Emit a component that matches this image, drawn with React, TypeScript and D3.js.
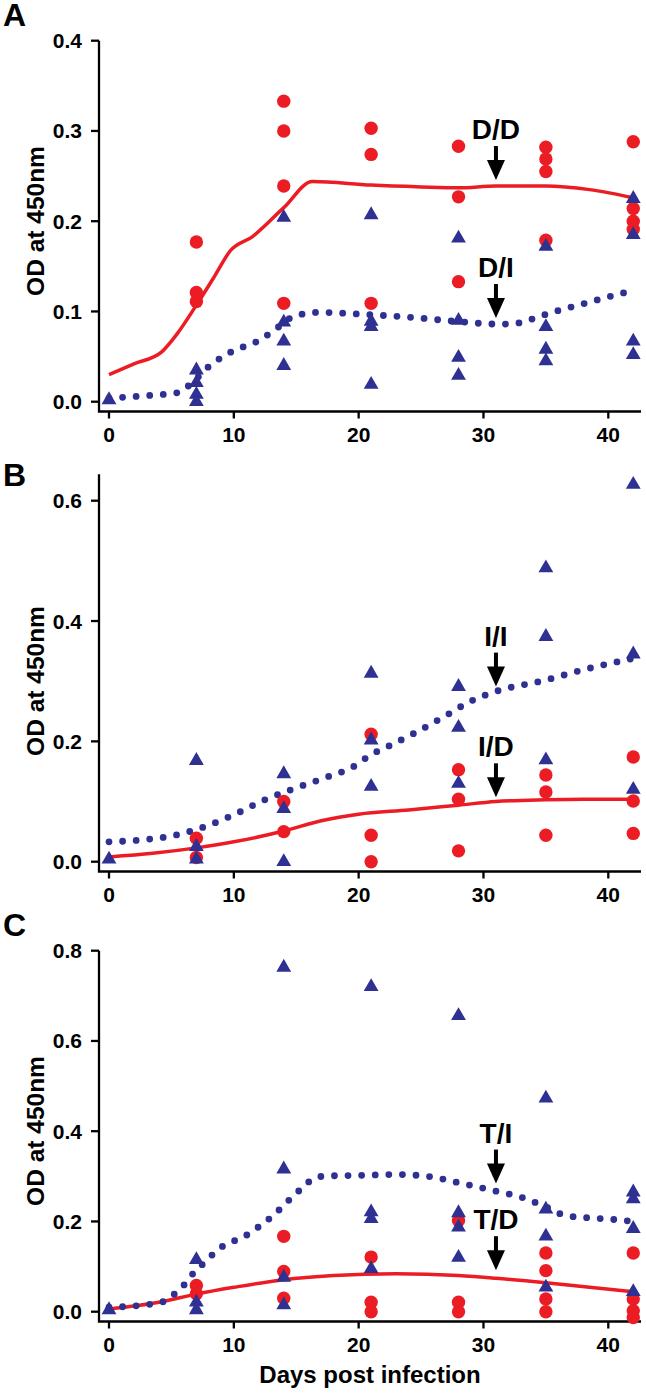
import React from "react";
import * as d3 from "d3";

type P = [number, number];

const xTicks = [0, 10, 20, 30, 40];

// Panel A
const aYTicks = [0, 0.1, 0.2, 0.3, 0.4];
const aCircles: P[] = [[7,0.177],[7,0.121],[7,0.111],[14,0.333],[14,0.300],[14,0.239],[14,0.109],[21,0.303],[21,0.274],[21,0.109],[28,0.283],[28,0.227],[28,0.133],[35,0.282],[35,0.269],[35,0.255],[35,0.179],[42,0.288],[42,0.214],[42,0.200],[42,0.191]];
const aTriangles: P[] = [[0,0.002],[7,0.035],[7,0.021],[7,0.008],[7,0.0],[14,0.204],[14,0.088],[14,0.067],[14,0.040],[21,0.207],[21,0.089],[21,0.083],[21,0.019],[28,0.181],[28,0.090],[28,0.049],[28,0.029],[35,0.172],[35,0.083],[35,0.058],[35,0.045],[42,0.225],[42,0.185],[42,0.067],[42,0.052]];
const aRedCurve: P[] = [[0,0.030],[2,0.042],[4.2,0.055],[5.5,0.076],[7,0.107],[8.5,0.140],[9.7,0.167],[11.5,0.183],[14,0.215],[16.3,0.244],[21,0.240],[25,0.238],[28,0.237],[31,0.239],[35,0.239],[38.5,0.235],[42,0.226]];
const aBlueCurve: P[] = [[0,0.004],[3.3,0.007],[5.5,0.010],[6.5,0.019],[8,0.039],[9.9,0.056],[11.9,0.067],[13.9,0.086],[14.7,0.094],[16.8,0.099],[20.1,0.097],[24.6,0.093],[27.8,0.089],[31.1,0.086],[32.2,0.086],[33.3,0.089],[34.4,0.094],[35.5,0.099],[37.6,0.107],[39.7,0.115],[41.9,0.123]];
const aNotes = [{ label: "D/D", x: 31, tip: 0.2456 }, { label: "D/I", x: 31, tip: 0.0927 }];

// Panel B
const bYTicks = [0, 0.2, 0.4, 0.6];
const bCircles: P[] = [[7,0.039],[7,0.007],[14,0.100],[14,0.050],[21,0.212],[21,0.044],[21,0.0],[28,0.153],[28,0.104],[28,0.018],[35,0.144],[35,0.116],[35,0.044],[42,0.174],[42,0.101],[42,0.047]];
const bTriangles: P[] = [[0,0.004],[7,0.168],[7,0.025],[7,0.004],[14,0.146],[14,0.088],[14,0.0],[21,0.313],[21,0.202],[21,0.125],[28,0.291],[28,0.223],[28,0.130],[35,0.488],[35,0.374],[35,0.169],[42,0.627],[42,0.345],[42,0.120]];
const bRedCurve: P[] = [[0,0.008],[3.5,0.014],[7,0.023],[10,0.033],[14,0.051],[17,0.068],[20,0.079],[24,0.086],[28,0.094],[31,0.100],[35,0.103],[38,0.104],[42,0.104]];
const bBlueCurve: P[] = [[0,0.033],[2.5,0.036],[5.3,0.044],[7.5,0.057],[10,0.078],[12.5,0.103],[14.5,0.119],[17.5,0.141],[19.5,0.157],[21,0.178],[22.5,0.193],[24.5,0.214],[27,0.243],[29,0.267],[31,0.283],[35,0.302],[38,0.319],[42,0.338]];
const bNotes = [{ label: "I/I", x: 31, tip: 0.291 }, { label: "I/D", x: 31, tip: 0.107 }];

// Panel C
const cYTicks = [0, 0.2, 0.4, 0.6, 0.8];
const cTriangles: P[] = [[0,0.004],[7,0.115],[7,0.021],[7,0.004],[14,0.763],[14,0.316],[14,0.076],[14,0.015],[21,0.720],[21,0.221],[21,0.206],[21,0.095],[28,0.656],[28,0.219],[28,0.187],[28,0.120],[35,0.473],[35,0.227],[35,0.167],[35,0.054],[42,0.265],[42,0.250],[42,0.184],[42,0.044]];
const cCircles: P[] = [[7,0.058],[7,0.040],[14,0.167],[14,0.089],[14,0.030],[21,0.121],[21,0.021],[21,0.0],[28,0.202],[28,0.021],[28,0.0],[35,0.130],[35,0.091],[35,0.028],[35,0.0],[42,0.130],[42,0.028],[42,0.002],[42,-0.013]];
const cRedCurve: P[] = [[0,0.006],[4,0.021],[7,0.039],[10,0.054],[14,0.071],[18,0.080],[23,0.084],[28,0.080],[31,0.074],[35,0.064],[38.5,0.054],[42,0.044]];
const cBlueCurve: P[] = [[0,0.010],[2.2,0.013],[3.4,0.017],[4.5,0.024],[5.4,0.043],[6.2,0.065],[6.8,0.087],[7.7,0.110],[8.5,0.132],[9.4,0.150],[10.4,0.161],[11.4,0.176],[12.3,0.195],[13.2,0.214],[14,0.236],[14.8,0.257],[15.7,0.280],[16.5,0.297],[17.6,0.301],[20,0.302],[23,0.304],[25.5,0.300],[28,0.286],[31,0.267],[33,0.254],[35,0.232],[36.6,0.213],[39,0.207],[41,0.203],[42,0.200]];
const cNotes = [{ label: "T/I", x: 31, tip: 0.284 }, { label: "T/D", x: 31, tip: 0.092 }];

const RED = "#ec1c24";
const BLUE = "#2e3192";
const FONT = "'Liberation Sans', Arial, Helvetica, sans-serif";

const X_LEFT = 99;
const X_RIGHT = 641;
const Y_ZERO = 401.7;
const Y_TOP = 40.7;
const X_AXIS_Y = 411.5;

const xScale = d3.scaleLinear().domain([0, 40]).range([109, 608.3]);

interface PanelProps {
  offset: number;
  letter: string;
  yTicks: number[];
  axisTop: number;
  circles: P[];
  triangles: P[];
  redCurve: P[];
  blueCurve: P[];
  notes: { label: string; x: number; tip: number }[];
  tickFmt: (v: number) => string;
}

function Panel(p: PanelProps) {
  const yMax = p.yTicks[p.yTicks.length - 1];
  const y = d3.scaleLinear().domain([0, yMax]).range([Y_ZERO, Y_TOP]);
  const line = d3
    .line<P>()
    .x((d) => xScale(d[0]))
    .y((d) => y(d[1]))
    .curve(d3.curveMonotoneX);
  const tri = d3.symbol().type(d3.symbolTriangle).size(95)();
  return (
    <g transform={`translate(0,${p.offset})`}>
      <text x={3} y={26} fontFamily={FONT} fontWeight="bold" fontSize={32} fill="#000">
        {p.letter}
      </text>
      <path
        d={`M${X_LEFT},${y(p.axisTop)} V${X_AXIS_Y} H${X_RIGHT}`}
        fill="none"
        stroke="#000"
        strokeWidth={2.3}
      />
      {p.yTicks.map((t) => (
        <g key={"y" + t}>
          <line x1={X_LEFT - 8} x2={X_LEFT} y1={y(t)} y2={y(t)} stroke="#000" strokeWidth={2.3} />
          <text
            x={82}
            y={y(t) + 7.5}
            textAnchor="end"
            fontFamily={FONT}
            fontWeight="bold"
            fontSize={21}
            fill="#000"
          >
            {p.tickFmt(t)}
          </text>
        </g>
      ))}
      {xTicks.map((t) => (
        <g key={"x" + t}>
          <line x1={xScale(t)} x2={xScale(t)} y1={X_AXIS_Y} y2={X_AXIS_Y + 7} stroke="#000" strokeWidth={2.3} />
          <text
            x={xScale(t)}
            y={441.5}
            textAnchor="middle"
            fontFamily={FONT}
            fontWeight="bold"
            fontSize={21}
            fill="#000"
          >
            {t}
          </text>
        </g>
      ))}
      <text
        transform={`translate(44,221) rotate(-90)`}
        textAnchor="middle"
        fontFamily={FONT}
        fontWeight="bold"
        fontSize={24.5}
        fill="#000"
      >
        OD at 450nm
      </text>
      <path d={line(p.redCurve) || ""} fill="none" stroke={RED} strokeWidth={3.5} strokeLinejoin="round" />
      <path
        d={line(p.blueCurve) || ""}
        fill="none"
        stroke={BLUE}
        strokeWidth={6.8}
        strokeLinecap="round"
        strokeDasharray="0 13.6"
      />
      {p.circles.map((d, i) => (
        <circle key={"c" + i} cx={xScale(d[0])} cy={y(d[1])} r={6.7} fill={RED} />
      ))}
      {p.triangles.map((d, i) => (
        <path key={"t" + i} d={tri || ""} transform={`translate(${xScale(d[0])},${y(d[1])})`} fill={BLUE} />
      ))}
      {p.notes.map((n) => {
        const cx = xScale(n.x);
        const ty = y(n.tip);
        return (
          <g key={n.label}>
            <line x1={cx} x2={cx} y1={ty - 34} y2={ty - 16} stroke="#000" strokeWidth={4} />
            <path d={`M${cx - 9},${ty - 20} L${cx + 9},${ty - 20} L${cx},${ty} Z`} fill="#000" />
            <text
              x={cx}
              y={ty - 41}
              textAnchor="middle"
              fontFamily={FONT}
              fontWeight="bold"
              fontSize={28}
              fill="#000"
            >
              {n.label}
            </text>
          </g>
        );
      })}
    </g>
  );
}

export default function App() {
  const f1 = d3.format(".1f");
  return (
    <svg
      width={646}
      height={1393}
      viewBox="0 0 646 1393"
      style={{ position: "absolute", left: 0, top: 0, background: "#fff" }}
    >
      <rect width={646} height={1393} fill="#fff" />
      <Panel
        offset={0}
        letter="A"
        yTicks={aYTicks}
        axisTop={0.4}
        circles={aCircles}
        triangles={aTriangles}
        redCurve={aRedCurve}
        blueCurve={aBlueCurve}
        notes={aNotes}
        tickFmt={f1}
      />
      <Panel
        offset={460}
        letter="B"
        yTicks={bYTicks}
        axisTop={0.644}
        circles={bCircles}
        triangles={bTriangles}
        redCurve={bRedCurve}
        blueCurve={bBlueCurve}
        notes={bNotes}
        tickFmt={f1}
      />
      <Panel
        offset={910}
        letter="C"
        yTicks={cYTicks}
        axisTop={0.8}
        circles={cCircles}
        triangles={cTriangles}
        redCurve={cRedCurve}
        blueCurve={cBlueCurve}
        notes={cNotes}
        tickFmt={f1}
      />
      <text
        x={370}
        y={1383}
        textAnchor="middle"
        fontFamily={FONT}
        fontWeight="bold"
        fontSize={24}
        fill="#000"
      >
        Days post infection
      </text>
    </svg>
  );
}
